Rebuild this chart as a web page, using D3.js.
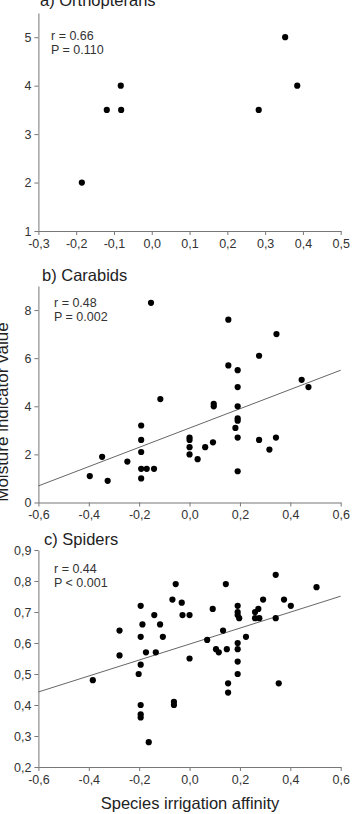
<!DOCTYPE html>
<html>
<head>
<meta charset="utf-8">
<script src="https://cdn.jsdelivr.net/npm/d3@7"></script>
<style>
  body { margin: 0; background: #fff; }
  svg { display: block; font-family: "Liberation Sans", Arial, sans-serif; }
</style>
</head>
<body>
<div id="chart-wrapper"></div>
<script>
// panel a: orthopterans
const orthoX = [-0.119, -0.082, -0.081, 0.283, 0.353, 0.385, -0.185];
const orthoY = [3.5, 4.0, 3.5, 3.5, 5.0, 4.0, 2.0];

// panel b: carabids
const carabX = [-0.153, 0.154, 0.345, 0.276, 0.154, 0.191, 0.191, 0.445, 0.472,
  -0.116, 0.096, 0.096, 0.191, 0.191, 0.191, 0.182, 0.191, 0.191, 0.276, 0.317, 0.343,
  0.093, 0.062, 0.032, 0.0, 0.0, 0.0, 0.0, -0.192, -0.192, -0.192, -0.192, -0.17, -0.141,
  -0.192, -0.247, -0.347, -0.396, -0.325];
const carabY = [8.3, 7.6, 7.0, 6.1, 5.7, 5.5, 4.8, 5.1, 4.8,
  4.3, 4.1, 4.0, 4.0, 3.5, 3.4, 3.1, 2.7, 1.3, 2.6, 2.2, 2.7,
  2.5, 2.3, 1.8, 2.7, 2.6, 2.3, 2.0, 3.2, 2.6, 2.1, 1.4, 1.4, 1.4,
  1.0, 1.7, 1.9, 1.1, 0.9];

// panel c: spiders
const spiderX = [-0.278, -0.278, -0.194, -0.187, -0.194, -0.194, -0.173, -0.14, -0.134, -0.117,
  -0.106, -0.068, -0.055, -0.031, -0.028, 0.0, 0.0, 0.07, 0.092, 0.105, 0.116, 0.133, 0.144,
  0.148, 0.191, 0.191, 0.191, 0.197, 0.191, 0.191, 0.191, 0.191, 0.224, 0.26, 0.273, 0.26,
  0.277, 0.292, 0.342, 0.342, 0.375, 0.402, 0.504,
  -0.384, -0.202, -0.194, -0.194, -0.194, -0.162, -0.062, -0.062, 0.153, 0.153, 0.354];
const spiderY = [0.64, 0.56, 0.72, 0.66, 0.62, 0.53, 0.57, 0.69, 0.57, 0.66,
  0.62, 0.74, 0.79, 0.73, 0.69, 0.69, 0.55, 0.61, 0.71, 0.58, 0.57, 0.64, 0.79,
  0.58, 0.72, 0.70, 0.69, 0.68, 0.60, 0.58, 0.54, 0.50, 0.62, 0.70, 0.71, 0.68,
  0.68, 0.74, 0.82, 0.68, 0.74, 0.72, 0.78,
  0.48, 0.50, 0.40, 0.37, 0.36, 0.28, 0.41, 0.40, 0.47, 0.44, 0.47];

// fitted regression lines, as end values at x = -0.6 and x = 0.6
const fitEndsX = [-0.6, 0.6];
const carabFitY = [0.69, 5.5];
const spiderFitY = [0.442, 0.751];

const orthoXTicks = [-0.3, -0.2, -0.1, 0.0, 0.1, 0.2, 0.3, 0.4, 0.5];
const wideXTicks = [-0.6, -0.4, -0.2, 0.0, 0.2, 0.4, 0.6];
const orthoYTicks = [1, 2, 3, 4, 5];
const carabYTicks = [0, 2, 4, 6, 8];
const spiderYTicks = [0.2, 0.3, 0.4, 0.5, 0.6, 0.7, 0.8, 0.9];

const panels = [
  { title: "a) Orthopterans", r: "r = 0.66", p: "P = 0.110", xs: orthoX, ys: orthoY,
    xDomain: [-0.3, 0.5], yDomain: [1, 5.5], xTicks: orthoXTicks, yTicks: orthoYTicks,
    top: 13, bottom: 231, titleX: 40, titleY: 5.5, noteY: 40, noteX: 51, xFmt: ",.1f", yFmt: "d" },
  { title: "b) Carabids", r: "r = 0.48", p: "P = 0.002", xs: carabX, ys: carabY, fit: carabFitY,
    xDomain: [-0.6, 0.6], yDomain: [0, 9], xTicks: wideXTicks, yTicks: carabYTicks,
    top: 286, bottom: 502.5, titleX: 42, titleY: 281, noteY: 307, noteX: 54, xFmt: ",.1f", yFmt: "d" },
  { title: "c) Spiders", r: "r = 0.44", p: "P < 0.001", xs: spiderX, ys: spiderY, fit: spiderFitY,
    xDomain: [-0.6, 0.6], yDomain: [0.2, 0.9], xTicks: wideXTicks, yTicks: spiderYTicks,
    top: 550, bottom: 767, titleX: 44, titleY: 545, noteY: 573, noteX: 54, xFmt: ",.1f", yFmt: ",.1f" }
];

const width = 353, height = 814;
const left = 38.4, right = 340.7;
// comma decimals and a plain hyphen for negatives, as in the original
const commaFmt = f => v => d3.format(f)(v).replace(".", ",").replace("\u2212", "-");

const svg = d3.select("#chart-wrapper").append("svg")
  .attr("width", width).attr("height", height);

panels.forEach(pn => {
  const x = d3.scaleLinear().domain(pn.xDomain).range([left, right]);
  const y = d3.scaleLinear().domain(pn.yDomain).range([pn.bottom, pn.top]);
  const g = svg.append("g");

  const xAxis = g.append("g")
    .attr("transform", `translate(0,${pn.bottom})`)
    .call(d3.axisBottom(x).tickValues(pn.xTicks).tickSize(4).tickSizeOuter(0)
      .tickFormat(commaFmt(pn.xFmt)));
  const yAxis = g.append("g")
    .attr("transform", `translate(${left},0)`)
    .call(d3.axisLeft(y).tickValues(pn.yTicks).tickSize(4).tickSizeOuter(0)
      .tickFormat(commaFmt(pn.yFmt)));

  [xAxis, yAxis].forEach(a => {
    a.select(".domain").attr("stroke", "#777");
    a.selectAll(".tick line").attr("stroke", "#777");
    a.selectAll(".tick text").attr("fill", "#333")
      .style("font-size", "12.5px").style("font-family", "Liberation Sans, Arial, sans-serif");
  });
  xAxis.selectAll(".tick text").attr("dy", "0.95em").attr("y", 5);
  yAxis.selectAll(".tick text").attr("x", -7);

  if (pn.fit) {
    g.append("line")
      .attr("x1", x(fitEndsX[0])).attr("y1", y(pn.fit[0]))
      .attr("x2", x(fitEndsX[1])).attr("y2", y(pn.fit[1]))
      .attr("stroke", "#666").attr("stroke-width", 1);
  }

  g.selectAll("circle")
    .data(d3.zip(pn.xs, pn.ys))
    .join("circle")
    .attr("cx", d => x(d[0]))
    .attr("cy", d => y(d[1]))
    .attr("r", 3.1)
    .attr("fill", "#000");

  g.append("text")
    .attr("x", pn.titleX).attr("y", pn.titleY)
    .attr("fill", "#222").style("font-size", "16.5px")
    .text(pn.title);

  g.append("text")
    .attr("x", pn.noteX).attr("y", pn.noteY)
    .attr("fill", "#333").style("font-size", "12.5px")
    .text(pn.r);
  g.append("text")
    .attr("x", pn.noteX).attr("y", pn.noteY + 13.5)
    .attr("fill", "#333").style("font-size", "12.5px")
    .text(pn.p);
});

svg.append("text")
  .attr("transform", "translate(8,412) rotate(-90)")
  .attr("text-anchor", "middle")
  .attr("fill", "#222").style("font-size", "17px")
  .text("Moisture indicator value");

svg.append("text")
  .attr("x", 190).attr("y", 809)
  .attr("text-anchor", "middle")
  .attr("fill", "#222").style("font-size", "16.5px")
  .text("Species irrigation affinity");
</script>
</body>
</html>
